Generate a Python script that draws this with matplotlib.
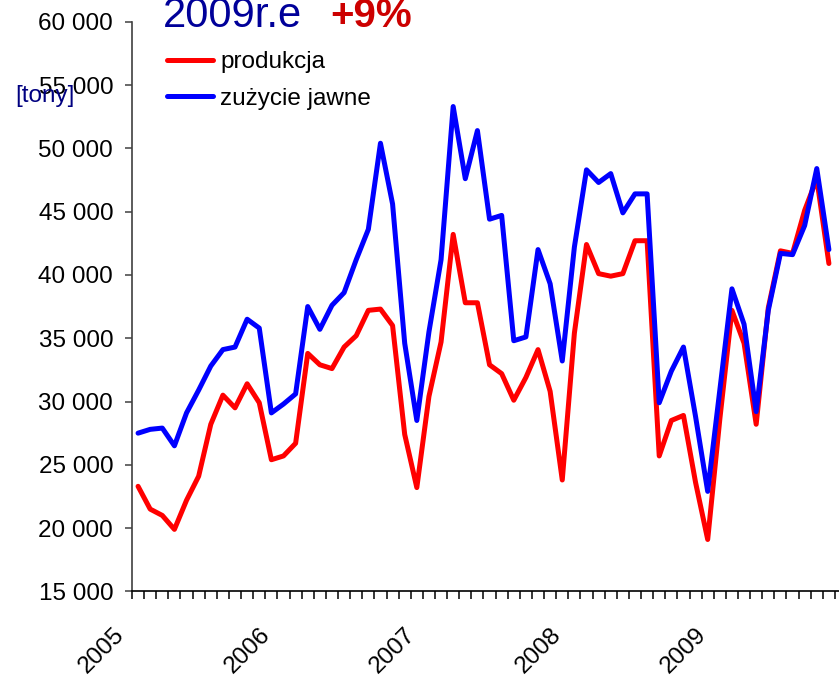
import numpy as np
import matplotlib
matplotlib.use("Agg")
import matplotlib.pyplot as plt
from matplotlib.ticker import FuncFormatter, FixedLocator
from matplotlib.transforms import ScaledTranslation, blended_transform_factory

plt.rcParams['font.family'] = ['Liberation Sans', 'DejaVu Sans']

# ---- data (monthly, Jan 2005 - Oct 2009) ----
years = ['2005', '2006', '2007', '2008', '2009']
n_categories = 60  # Jan 2005 .. Dec 2009 on the category axis

produkcja = [23300, 21500, 21000, 19900, 22200, 24100, 28200, 30500, 29500, 31400, 29900, 25400,
             25700, 26700, 33800, 32900, 32600, 34300, 35200, 37200, 37300, 36000, 27400, 23200,
             30400, 34700, 43200, 37800, 37800, 32900, 32200, 30100, 31900, 34100, 30800, 23800,
             35400, 42400, 40100, 39900, 40100, 42700, 42700, 25700, 28500, 28900, 23600, 19100,
             28600, 37200, 34600, 28200, 37400, 41900, 41700, 45100, 47600, 40900]

zuzycie = [27500, 27800, 27900, 26500, 29100, 30900, 32800, 34100, 34300, 36500, 35800, 29100,
           29800, 30600, 37500, 35700, 37600, 38600, 41200, 43600, 50400, 45600, 34600, 28500,
           35500, 41200, 53300, 47600, 51400, 44400, 44700, 34800, 35100, 42000, 39300, 33200,
           42200, 48300, 47300, 48000, 44900, 46400, 46400, 29900, 32400, 34300, 28800, 22900,
           30900, 38900, 36100, 29200, 37200, 41700, 41600, 43900, 48400, 42000]

labels = ['produkcja', 'zużycie jawne']

# ---- figure ----
W, H = 839, 680
fig = plt.figure(figsize=(W / 100, H / 100), dpi=100)
spacing = 12.12
ax = fig.add_axes([132 / W, (H - 591.4) / H, n_categories * spacing / W, (591.4 - 21.7) / H])

x = np.arange(len(produkcja))
l1, = ax.plot(x, produkcja, color='#FF0000', lw=3.6, solid_capstyle='round')
l2, = ax.plot(x, zuzycie, color='#0000FF', lw=3.6, solid_capstyle='round')

ax.set_xlim(-0.5, n_categories - 0.5)
ax.set_ylim(15000, 60000)

for s in ['top', 'right']:
    ax.spines[s].set_visible(False)
ax.spines['left'].set_color('#404040')
ax.spines['left'].set_linewidth(1.2)
ax.spines['bottom'].set_color('black')
ax.spines['bottom'].set_linewidth(1.2)

ax.yaxis.set_major_locator(FixedLocator(np.arange(15000, 60001, 5000)))
ax.yaxis.set_major_formatter(FuncFormatter(lambda v, p: f"{int(v):,}".replace(",", " ")))
ax.tick_params(axis='y', direction='out', length=5, width=1.1, color='#404040',
               labelsize=17.5, pad=8.5)

ax.xaxis.set_major_locator(FixedLocator(np.arange(n_categories + 1) - 0.5))
ax.xaxis.set_major_formatter(FuncFormatter(lambda v, p: ''))
ax.tick_params(axis='x', direction='out', length=5.8, width=1.1, color='black')

trans = blended_transform_factory(ax.transData, ax.transAxes) + \
    ScaledTranslation(-9 / 100, -32 / 100, fig.dpi_scale_trans)
for i, yr in enumerate(years):
    ax.text(i * 12, 0, yr, transform=trans, rotation=45, ha='right', va='top',
            fontsize=17.5, clip_on=False)

fig.legend([l1, l2], labels, loc='upper left', bbox_to_anchor=(167 / W, 1 - 51 / H),
           bbox_transform=fig.transFigure, frameon=False, fontsize=17.5,
           handlelength=1.9, handletextpad=0.3, labelspacing=0.6,
           borderpad=0, borderaxespad=0)

fig.text(163 / W, 1 - 27 / H, '2009r.e', fontsize=30, color='#000099', va='baseline', ha='left')
fig.text(330 / W, 1 - 27 / H, '+9%', fontsize=29, color='#CC0000', fontweight='bold',
         va='baseline', ha='left')
fig.text(15 / W, 1 - 96 / H, '[tony]', fontsize=17.5, color='#000080', va='center', ha='left')

fig.savefig('out.png', dpi=100)
